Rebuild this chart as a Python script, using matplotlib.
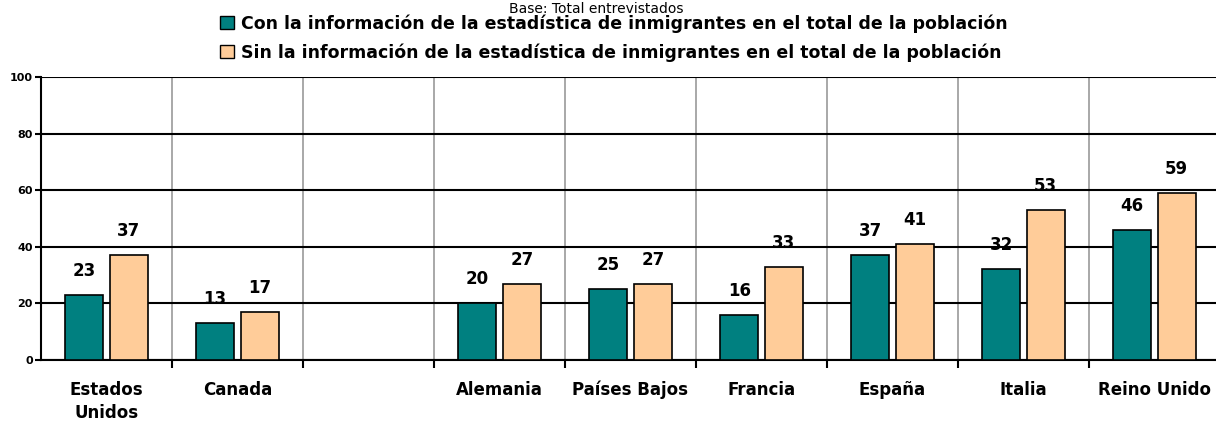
import numpy as np
import matplotlib
matplotlib.use("Agg")
import matplotlib.pyplot as plt

# datos
paises = ["Estados\nUnidos", "Canada", "", "Alemania", "Países Bajos",
          "Francia", "España", "Italia", "Reino Unido"]
con_info = [23, 13, None, 20, 25, 16, 37, 32, 46]
sin_info = [37, 17, None, 27, 27, 33, 41, 53, 59]
serie_con = "Con la información de la estadística de inmigrantes en el total de la población"
serie_sin = "Sin la información de la estadística de inmigrantes en el total de la población"

TEAL = "#008080"
PEACH = "#FFCC99"

fig = plt.figure(figsize=(12.16, 4.21), dpi=100)
ax = fig.add_axes([41 / 1216, 1 - 360 / 421, 1179 / 1216, 283 / 421])

x = np.arange(len(paises))
w = 0.29
off = 0.17
for i in x:
    if con_info[i] is None:
        continue
    ax.bar(i - off, con_info[i], w, color=TEAL, edgecolor="black", linewidth=1.2, zorder=3)
    ax.bar(i + off, sin_info[i], w, color=PEACH, edgecolor="black", linewidth=1.2, zorder=3)
    ax.text(i - off, con_info[i] + 8.5, str(con_info[i]), ha="center", va="center",
            fontsize=12, fontweight="bold", zorder=4)
    ax.text(i + off, sin_info[i] + 8.5, str(sin_info[i]), ha="center", va="center",
            fontsize=12, fontweight="bold", zorder=4)

ax.set_xlim(-0.5, len(paises) - 0.5)
ax.set_ylim(0, 100)
ax.set_yticks(range(0, 101, 20))
ax.tick_params(axis="y", labelsize=8, length=4, width=1.5, pad=2)
for t in ax.get_yticklabels():
    t.set_fontweight("bold")
ax.yaxis.grid(True, color="black", linewidth=1.5, zorder=1)

ax.set_xticks(x)
ax.set_xticklabels(paises, fontsize=12, fontweight="bold", va="top", linespacing=1.35)
ax.tick_params(axis="x", which="major", length=0, pad=15)
ax.set_xticks(np.arange(0.5, len(paises) - 0.5), minor=True)
ax.tick_params(axis="x", which="minor", length=6, width=1.5)
ax.xaxis.grid(True, which="minor", color="#999999", linewidth=1.2, zorder=1)

for s in ["top", "right"]:
    ax.spines[s].set_visible(False)
ax.spines["left"].set_linewidth(1.5)
ax.spines["bottom"].set_linewidth(1.5)

# leyenda y subtítulo
fig.text(596 / 1216, 1 - 2 / 421, "Base: Total entrevistados", ha="center", va="top",
         fontsize=10)
handles = [plt.Rectangle((0, 0), 1, 1, facecolor=TEAL, edgecolor="black"),
           plt.Rectangle((0, 0), 1, 1, facecolor=PEACH, edgecolor="black")]
fig.legend(handles, [serie_con, serie_sin], loc="center", ncol=1,
           bbox_to_anchor=(614 / 1216, 1 - 38 / 421), frameon=False,
           prop={"size": 12.5, "weight": "bold"}, handlelength=0.8, handleheight=0.8,
           handletextpad=0.4, labelspacing=0.6)

fig.savefig("out.png", dpi=100)
